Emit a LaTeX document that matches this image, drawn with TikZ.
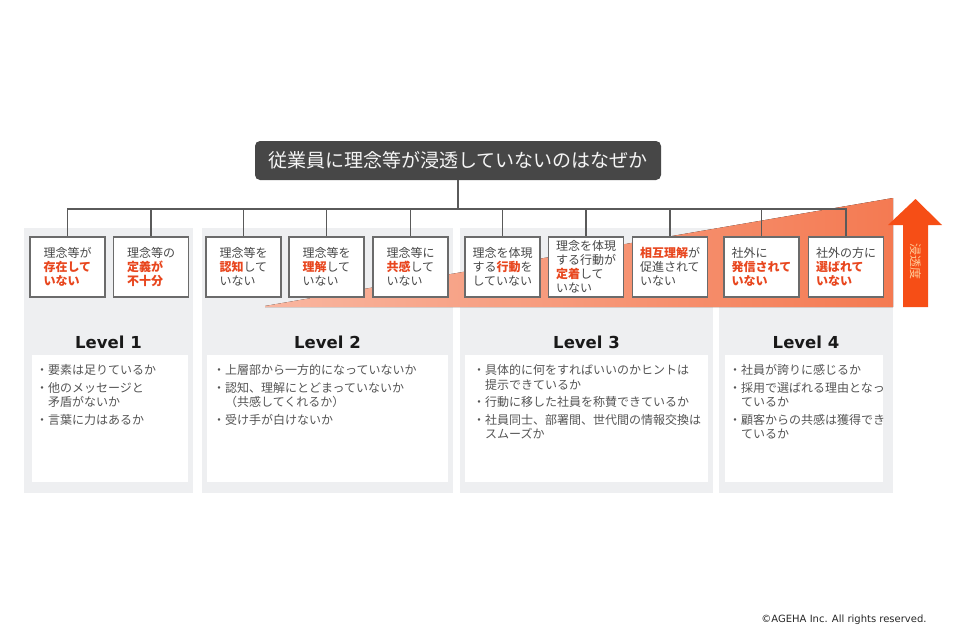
\documentclass[tikz,border=0pt]{standalone}
\usepackage{fontspec}
\setmainfont{DejaVu Sans}
\newfontfamily\jp{Noto Sans CJK JP}
\usetikzlibrary{positioning}
\definecolor{accent}{HTML}{E8461E}
\definecolor{arrowred}{HTML}{F64E16}
\definecolor{wedge}{HTML}{F47A52}
\definecolor{panelgray}{HTML}{EEEFF1}
\definecolor{titlegray}{HTML}{474747}
\definecolor{linegray}{HTML}{5A5A5A}
\definecolor{bodygray}{HTML}{555555}
\newcommand{\hl}[1]{\textcolor{accent}{\bfseries #1}}
\tikzset{
  titlebox/.style={fill=titlegray,rounded corners=5pt,minimum width=406pt,minimum height=39pt,
    text=white!92!gray,font=\jp\fontsize{19}{22}\selectfont},
  cause/.style={draw=linegray!90,line width=1.2pt,fill=white,minimum width=75pt,minimum height=60pt,
    inner sep=0pt,align=left,text=bodygray!85!black,font=\jp\fontsize{12}{14}\selectfont},
  tree/.style={draw=linegray,line width=1.2pt},
  levelhead/.style={font=\bfseries\fontsize{16.5}{20}\selectfont,text=black!90},
  points/.style={anchor=north west,inner sep=0pt,align=left,text=bodygray,font=\jp\fontsize{12}{14.5}\selectfont}
}
\begin{document}
\begin{tikzpicture}[x=1pt,y=-1pt]
\useasboundingbox (0,0) rectangle (960,640);
% panels
\fill[panelgray] (24,228) rectangle (193,493);
\fill[panelgray] (202,228) rectangle (453,493);
\fill[panelgray] (460,228) rectangle (713,493);
\fill[panelgray] (719,228) rectangle (893,493);
\fill[white] (32,355) rectangle (188,482);
\fill[white] (207,355) rectangle (448,482);
\fill[white] (465,355) rectangle (708,482);
\fill[white] (725,355) rectangle (883,482);
% wedge
\fill[left color=wedge!55,right color=wedge] (265,306) -- (893,198) -- (893,307) -- (265,307) -- cycle;
% title and causes
\node[titlebox] (title) at (458,160.5) {従業員に理念等が浸透していないのはなぜか};
\coordinate (bus) at (458,209);
\node[cause] (c1) at (67.5,267) {理念等が\\\hl{存在して}\\\hl{いない}};
\node[cause] (c2) at (151,267) {理念等の\\\hl{定義が}\\\hl{不十分}};
\node[cause] (c3) at (243.5,267) {理念等を\\\hl{認知}して\\いない};
\node[cause] (c4) at (326.5,267) {理念等を\\\hl{理解}して\\いない};
\node[cause] (c5) at (410.5,267) {理念等に\\\hl{共感}して\\いない};
\node[cause] (c6) at (502.5,267) {理念を体現\\する\hl{行動}を\\していない};
\node[cause] (c7) at (586,267) {理念を体現\\する行動が\\\hl{定着}して\\いない};
\node[cause] (c8) at (670,267) {\hl{相互理解}が\\促進されて\\いない};
\node[cause] (c9) at (761.5,267) {社外に\\\hl{発信されて}\\\hl{いない}};
\node[cause] (c10) at (846,267) {社外の方に\\\hl{選ばれて}\\\hl{いない}};
\draw[tree] (title.south) -- (bus);
\foreach \c in {c1,c2,c3,c4,c5,c6,c7,c8,c9,c10}
  \draw[tree] (bus) -| (\c.north);
% levels
\node[levelhead] (lv1) at (108.5,342.5) {Level 1};
\node[levelhead] (lv2) at (327.5,342.5) {Level 2};
\node[levelhead] (lv3) at (586.5,342.5) {Level 3};
\node[levelhead] (lv4) at (806,342.5) {Level 4};
\node[points] (pt1) at (36,364.5) {・要素は足りているか\\[3pt]・他のメッセージと\\\hspace*{1em}矛盾がないか\\[3pt]・言葉に力はあるか};
\node[points] (pt2) at (213,364.5) {・上層部から一方的になっていないか\\[3pt]・認知、理解にとどまっていないか\\\hspace*{1em}（共感してくれるか）\\[3pt]・受け手が白けないか};
\node[points] (pt3) at (473,364.5) {・具体的に何をすればいいのかヒントは\\\hspace*{1em}提示できているか\\[3pt]・行動に移した社員を称賛できているか\\[3pt]・社員同士、部署間、世代間の情報交換は\\\hspace*{1em}スムーズか};
\node[points] (pt4) at (729,364.5) {・社員が誇りに感じるか\\[3pt]・採用で選ばれる理由となっ\\\hspace*{1em}ているか\\[3pt]・顧客からの共感は獲得でき\\\hspace*{1em}ているか};
% arrow
\fill[arrowred] (903,307) -- (903,225) -- (888,225) -- (915.5,199) -- (942,225) -- (928,225) -- (928,307) -- cycle;
\node[rotate=-90,text=orange!40!white,font=\jp\fontsize{12}{14}\selectfont] (arrowtxt) at (915.5,261) {浸透度};
\node[font=\fontsize{10}{12}\selectfont,text=black!85] (copy) at (844,620) {©AGEHA Inc. All rights reserved.};
\end{tikzpicture}
\end{document}
